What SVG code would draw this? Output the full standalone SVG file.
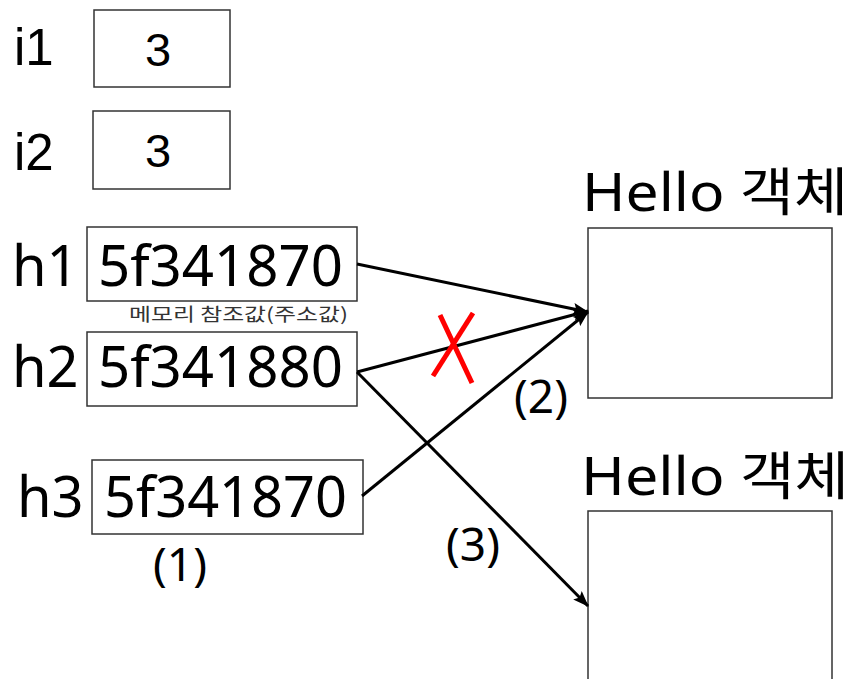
<svg xmlns="http://www.w3.org/2000/svg" width="863" height="679" viewBox="0 0 863 679">
<style>
.box{fill:#fff;stroke:#333;stroke-width:1.5}
.ar{font-family:"Liberation Sans",Arial,sans-serif;fill:#000}
.ns{font-family:"Noto Sans","Noto Sans CJK KR",sans-serif;fill:#000}
.kr{font-family:"Noto Sans CJK KR","Noto Sans",sans-serif}
.cn{stroke:#000;stroke-width:3;fill:none;marker-end:url(#ah)}
</style>
<defs>
<marker id="ah" markerUnits="userSpaceOnUse" markerWidth="16" markerHeight="12" refX="15" refY="6" orient="auto">
<path d="M0,0 L16,6 L0,12 L3,6 Z" fill="#000"/>
</marker>
</defs>
<rect width="863" height="679" fill="#fff"/>
<g id="i1">
<text class="ar" x="14" y="65" font-size="51">i1</text>
<rect class="box" x="94" y="10" width="136" height="77"/>
<text class="ar" x="158" y="66" font-size="47" text-anchor="middle">3</text>
</g>
<g id="i2">
<text class="ar" x="14" y="170" font-size="51">i2</text>
<rect class="box" x="93" y="111" width="137" height="78"/>
<text class="ar" x="158" y="167" font-size="47" text-anchor="middle">3</text>
</g>
<g id="h1">
<text class="ns" x="12" y="286" font-size="56">h1</text>
<rect class="box" x="87" y="227" width="270" height="74"/>
<text class="ns" x="98" y="286" font-size="56" textLength="245" lengthAdjust="spacingAndGlyphs">5f341870</text>
<text class="kr" x="129" y="321" font-size="18" fill="#333" textLength="219" lengthAdjust="spacingAndGlyphs">메모리 참조값(주소값)</text>
</g>
<g id="h2">
<text class="ns" x="12" y="387" font-size="56">h2</text>
<rect class="box" x="87" y="332" width="270" height="74"/>
<text class="ns" x="98" y="387" font-size="56" textLength="245" lengthAdjust="spacingAndGlyphs">5f341880</text>
</g>
<g id="h3">
<text class="ns" x="17" y="517" font-size="56">h3</text>
<rect class="box" x="92" y="460" width="271" height="74"/>
<text class="ns" x="104" y="517" font-size="56" textLength="243" lengthAdjust="spacingAndGlyphs">5f341870</text>
<text class="ns" x="180" y="581" font-size="46" text-anchor="middle">(1)</text>
</g>
<g id="hello1">
<text class="ns" x="582" y="211" font-size="52" textLength="266" lengthAdjust="spacingAndGlyphs">Hello 객체</text>
<rect class="box" x="588" y="228" width="244" height="170"/>
</g>
<g id="hello2">
<text class="ns" x="581" y="495" font-size="52" textLength="268" lengthAdjust="spacingAndGlyphs">Hello 객체</text>
<rect class="box" x="588" y="511" width="244" height="180"/>
</g>
<g id="connectors">
<line class="cn" x1="357" y1="264" x2="588" y2="312"/>
<line class="cn" x1="357" y1="372" x2="588" y2="311" stroke-width="4.5"/>
<line class="cn" x1="362" y1="496" x2="588" y2="312"/>
<line class="cn" x1="357" y1="372" x2="588" y2="606"/>
<g stroke="#f00" stroke-width="5">
<line x1="440" y1="315" x2="472" y2="383"/>
<line x1="473" y1="313" x2="433" y2="376"/>
</g>
<text class="ns" x="541" y="413" font-size="46" text-anchor="middle">(2)</text>
<text class="ns" x="473" y="561" font-size="46" text-anchor="middle">(3)</text>
</g>
</svg>
